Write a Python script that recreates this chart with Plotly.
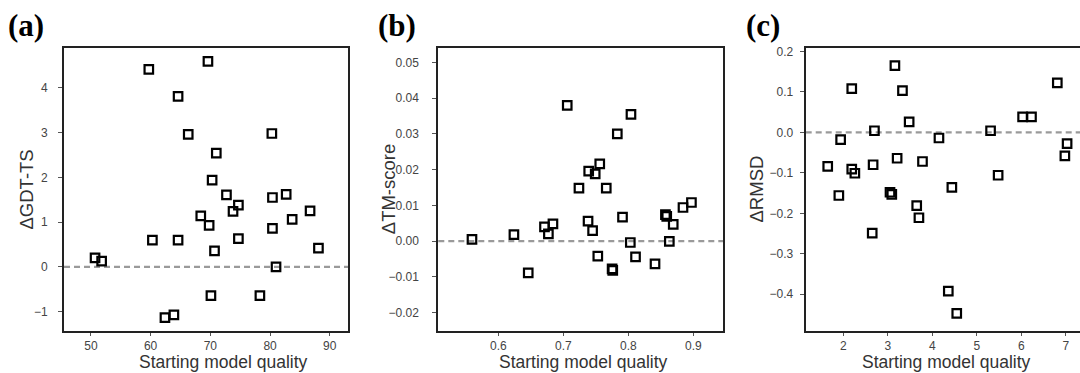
import plotly.graph_objects as go

# ---------------- data ----------------
# (a) GDT-TS
gdt_x = [59.7, 69.6, 64.6, 66.3, 80.3, 71.0, 70.3, 72.7, 82.7, 80.4, 74.7, 73.8, 86.7, 68.4, 83.7,
         69.8, 80.4, 60.3, 64.6, 74.7, 70.7, 88.1, 50.7, 51.8, 81.0, 70.1, 78.3, 62.4, 63.9]
gdt_y = [4.41, 4.59, 3.81, 2.96, 2.98, 2.54, 1.94, 1.61, 1.62, 1.55, 1.38, 1.24, 1.25, 1.14, 1.06,
         0.93, 0.86, 0.60, 0.60, 0.63, 0.36, 0.42, 0.20, 0.13, 0.00, -0.64, -0.64, -1.13, -1.07]

# (b) TM-score
tm_x = [0.5595, 0.624, 0.646, 0.671, 0.677, 0.684, 0.706, 0.724, 0.739, 0.749, 0.756, 0.766, 0.738,
        0.745, 0.753, 0.775, 0.776, 0.783, 0.804, 0.791, 0.803, 0.811, 0.841, 0.857, 0.859, 0.869,
        0.863, 0.884, 0.897]
tm_y = [0.0005, 0.0018, -0.0089, 0.0040, 0.0020, 0.0048, 0.0380, 0.0148, 0.0196, 0.0188, 0.0216,
        0.0148, 0.0056, 0.0029, -0.0042, -0.0078, -0.0082, 0.0300, 0.0355, 0.0067, -0.0004, -0.0044,
        -0.0064, 0.0074, 0.0069, 0.0047, -0.0001, 0.0094, 0.0108]

# (c) RMSD
rmsd_x = [1.65, 1.94, 1.90, 2.19, 2.19, 2.26, 2.70, 2.67, 2.65, 3.16, 3.33, 3.48, 3.21, 3.05, 3.09,
          3.78, 3.65, 3.70, 4.15, 4.44, 4.36, 4.55, 5.31, 5.48, 6.03, 6.23, 6.81, 7.03, 6.98]
rmsd_y = [-0.084, -0.018, -0.156, 0.108, -0.091, -0.101, 0.004, -0.080, -0.249, 0.165, 0.103, 0.026,
          -0.064, -0.148, -0.153, -0.072, -0.181, -0.211, -0.014, -0.136, -0.392, -0.447, 0.004,
          -0.106, 0.038, 0.038, 0.122, -0.028, -0.058]

# ticks
gdt_xticks = [50, 60, 70, 80, 90]
gdt_yticks = [-1, 0, 1, 2, 3, 4]
tm_xticks = [0.6, 0.7, 0.8, 0.9]
tm_yticks = [-0.02, -0.01, 0.00, 0.01, 0.02, 0.03, 0.04, 0.05]
rmsd_xticks = [2, 3, 4, 5, 6, 7]
rmsd_yticks = [-0.4, -0.3, -0.2, -0.1, 0.0, 0.1, 0.2]

panel_labels = ["(a)", "(b)", "(c)"]
y_titles = ["ΔGDT-TS", "ΔTM-score", "ΔRMSD"]
x_title = "Starting model quality"

# ---------------- figure ----------------
W, H = 1080, 373
fig = go.Figure()

panels = [
    dict(x=gdt_x, y=gdt_y, xt=gdt_xticks, yt=gdt_yticks, xfmt="d", yfmt="d",
         xr=[45.5, 93.1], yr=[-1.424, 4.90], px=(64, 348.3), mirror_y=True,
         ystand=8, xt_c=223, yt_c=26),
    dict(x=tm_x, y=tm_y, xt=tm_xticks, yt=tm_yticks, xfmt=".1f", yfmt=".2f",
         xr=[0.5077, 0.946], yr=[-0.0251, 0.0542], px=(438.3, 723.3), mirror_y=True,
         ystand=11, xt_c=583.5, yt_c=388.7),
    dict(x=rmsd_x, y=rmsd_y, xt=rmsd_xticks, yt=rmsd_yticks, xfmt="d", yfmt=".1f",
         xr=[1.155, 7.32], yr=[-0.490, 0.2096], px=(805.7, 1080), mirror_y=False,
         ystand=4, xt_c=946, yt_c=756),
]

ytop, ybot = 47.5, 330.7
ydom = [1 - ybot / H, 1 - ytop / H]

font_fam = "Liberation Sans, Arial, sans-serif"
layout = dict(
    width=W, height=H,
    margin=dict(l=0, r=0, t=0, b=0),
    paper_bgcolor="white", plot_bgcolor="white",
    showlegend=False,
    font=dict(family=font_fam, color="#333"),
    shapes=[], annotations=[],
)

for i, p in enumerate(panels, start=1):
    xa = "x" if i == 1 else f"x{i}"
    ya = "y" if i == 1 else f"y{i}"
    fig.add_trace(go.Scatter(
        x=p["x"], y=p["y"], mode="markers",
        marker=dict(symbol="square-open", size=8.5, color="black", line=dict(width=2.2, color="black")),
        xaxis=xa, yaxis=ya, cliponaxis=False,
    ))
    common = dict(
        showline=True, linecolor="#222", linewidth=2,
        ticks="outside", tickwidth=1, tickcolor="#555",
        tickfont=dict(size=12, color="#444", family=font_fam),
        showgrid=False, zeroline=False, automargin=False,
    )
    layout["xaxis" if i == 1 else f"xaxis{i}"] = dict(
        common, domain=[p["px"][0] / W, min(p["px"][1] / W, 1.0)], ticklen=3,
        anchor=ya, range=p["xr"], tickvals=p["xt"], tickformat=p["xfmt"], mirror=True,
    )
    layout["yaxis" if i == 1 else f"yaxis{i}"] = dict(
        common, domain=ydom, anchor=xa, range=p["yr"], tickvals=p["yt"], ticklen=4,
        tickformat=p["yfmt"], mirror=p["mirror_y"], ticklabelstandoff=p["ystand"],
    )
    layout["shapes"].append(dict(
        type="line", xref=f"{xa} domain", x0=0, x1=1, yref=ya, y0=0, y1=0,
        line=dict(color="#9a9a9a", width=2.2, dash="6px,4px"), layer="below",
    ))
    # axis titles
    layout["annotations"].append(dict(
        text=x_title, x=p["xt_c"] / W, y=0, xref="paper", yref="paper",
        xanchor="center", yanchor="bottom", showarrow=False, borderpad=0,
        font=dict(size=17.5, color="#333", family=font_fam),
    ))
    layout["annotations"].append(dict(
        text=y_titles[i - 1], x=p["yt_c"] / W, y=1 - 189.5 / H, xref="paper", yref="paper",
        xanchor="center", yanchor="middle", showarrow=False, textangle=-90,
        font=dict(size=18.5, color="#333", family=font_fam),
    ))

label_x = [6, 376, 744]
for lx, lab in zip(label_x, panel_labels):
    layout["annotations"].append(dict(
        text=f"<b>{lab}</b>", x=lx / W, y=1 - 6 / H, xref="paper", yref="paper",
        xanchor="left", yanchor="top", showarrow=False,
        font=dict(family="Liberation Serif, Times New Roman, serif", size=31, color="black"),
    ))

fig.update_layout(**layout)
fig.write_html(
    "out.html",
    config={"displayModeBar": False},
    post_script="document.body.style.margin='0px';document.body.style.overflow='hidden';",
)
